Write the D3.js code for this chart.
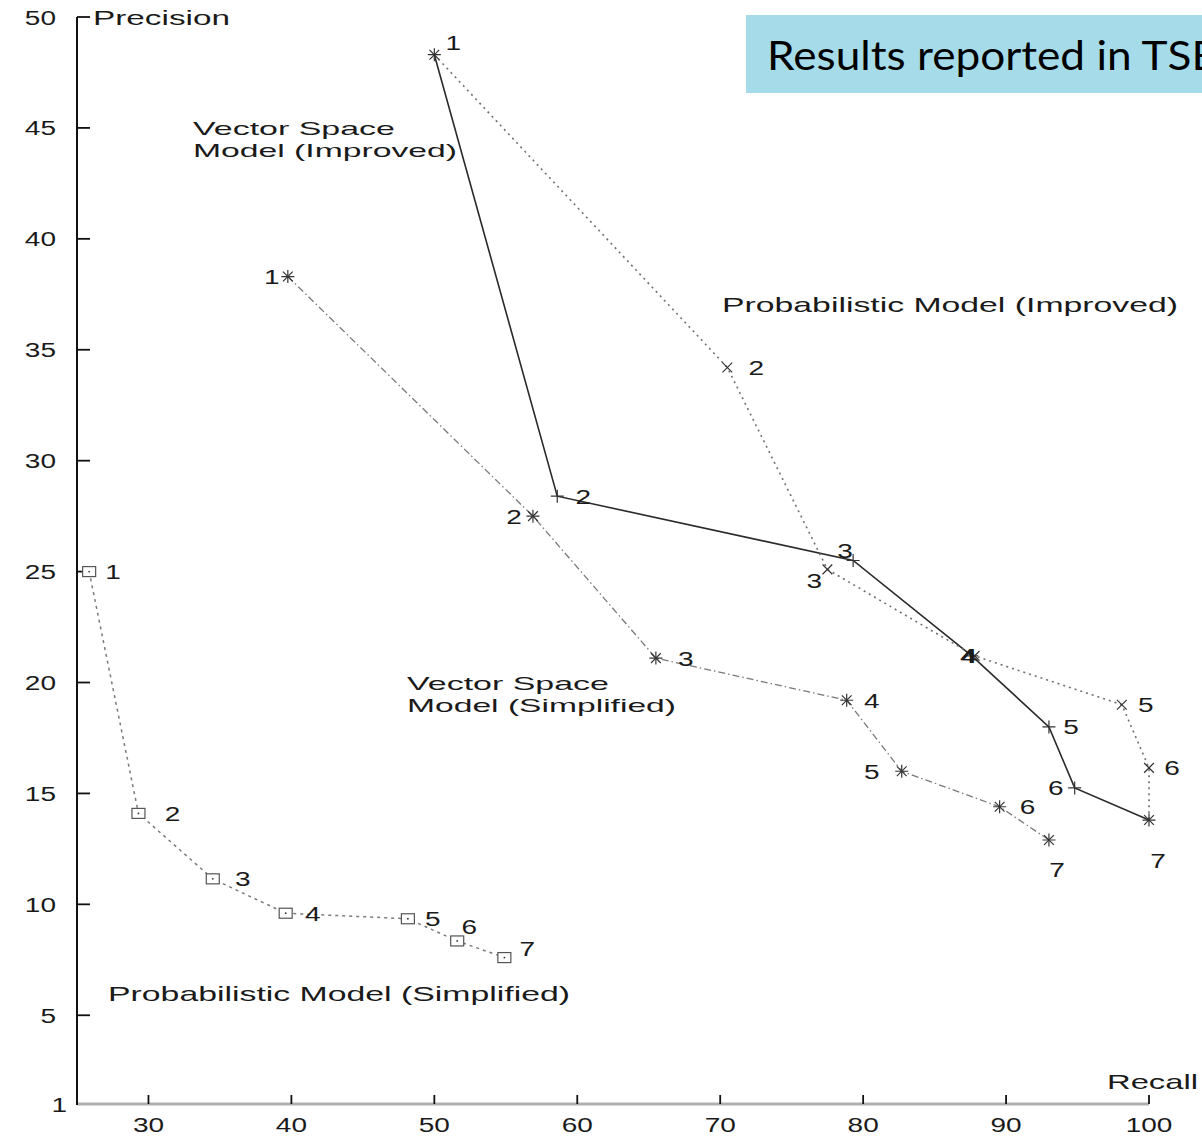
<!DOCTYPE html>
<html>
<head>
<meta charset="utf-8">
<script src="https://cdn.jsdelivr.net/npm/d3@7"></script>
<style>
  html, body { margin: 0; padding: 0; background: #fff; }
  svg { display: block; }
  .lbl { font-family: "Liberation Sans", Arial, Helvetica, sans-serif; fill: #1a1a1a; }
</style>
</head>
<body>
<div id="chart"></div>
<script>
// ---- data ----
const levels = ["1", "2", "3", "4", "5", "6", "7"];
const recallTicks = [30, 40, 50, 60, 70, 80, 90, 100];
const precisionTicks = [1, 5, 10, 15, 20, 25, 30, 35, 40, 45, 50];

const recallVSI = [50, 58.6, 79.3, 87.6, 93.0, 94.8, 100];
const precisionVSI = [48.3, 28.4, 25.5, 21.2, 18.0, 15.25, 13.8];

const recallPI = [50, 70.5, 77.5, 87.8, 98.1, 100, 100];
const precisionPI = [48.3, 34.2, 25.1, 21.2, 19.0, 16.15, 13.8];

const recallVSS = [39.75, 56.9, 65.5, 78.85, 82.7, 89.55, 93.0];
const precisionVSS = [38.3, 27.5, 21.1, 19.2, 16.0, 14.4, 12.9];

const recallPS = [25.85, 29.3, 34.5, 39.6, 48.15, 51.6, 54.9];
const precisionPS = [25.0, 14.1, 11.15, 9.6, 9.35, 8.35, 7.6];

const titleText = "Results reported in TSE";
const xAxisLabel = "Recall";
const yAxisLabel = "Precision";

// ---- layout / style (not data) ----
const W = 1202, H = 1136;
const x = d3.scaleLinear().domain([25, 100]).range([77, 1149]);
const y = d3.scaleLinear().domain([1, 50]).range([1104, 17]);

// label offsets (px) for point numbers; null = not drawn
const offVSI = [[19,-12],[26,0],[-8,-10],[-4,0],[22,0],[-19,0],[9,40]];
const offPI  = [null,[29,0],[-13,11],[-5,0],[24,0],[23,0],null];
const offVSS = [[-16,0],[-19,0],[30,0],[25,0],[-30,0],[28,0],[8,29]];
const offPS  = [[24,0],[34,0],[30,0],[27,0],[25,0],[12,-14],[23,-9]];

const series = [
  { rx: recallVSI, py: precisionVSI, off: offVSI, marker: "plus",
    stroke: "#2a2a2a", width: 1.6, dash: null },
  { rx: recallPI, py: precisionPI, off: offPI, marker: "cross",
    stroke: "#707070", width: 1.6, dash: "2,4" },
  { rx: recallVSS, py: precisionVSS, off: offVSS, marker: "star",
    stroke: "#7a7a7a", width: 1.3, dash: "7,3,1.5,3" },
  { rx: recallPS, py: precisionPS, off: offPS, marker: "square",
    stroke: "#7a7a7a", width: 1.5, dash: "3,4" }
];

const svg = d3.select("#chart").append("svg")
  .attr("width", W).attr("height", H)
  .attr("viewBox", `0 0 ${W} ${H}`);

// title box
svg.append("rect").attr("x", 746).attr("y", 15).attr("width", 480).attr("height", 78)
  .attr("fill", "#a6dcea");
svg.append("text").attr("x", 767).attr("y", 70)
  .attr("font-family", "Lato, 'Open Sans', sans-serif").attr("font-size", 40)
  .attr("textLength", 450).attr("lengthAdjust", "spacingAndGlyphs")
  .attr("fill", "#000").text(titleText);

// axes
const SX = 1.4; // horizontal stretch of the Helvetica-like text
const gx = svg.append("g");
gx.append("line").attr("x1", x(25)).attr("x2", x(100)).attr("y1", y(1)).attr("y2", y(1))
  .attr("stroke", "#b0b0b0").attr("stroke-width", 3);
gx.selectAll("line.tk").data(recallTicks).join("line").attr("class", "tk")
  .attr("x1", d => x(d)).attr("x2", d => x(d))
  .attr("y1", y(1)).attr("y2", y(1) - 9)
  .attr("stroke", "#111").attr("stroke-width", 1.8);
gx.selectAll("text").data(recallTicks).join("text").attr("class", "lbl")
  .attr("text-anchor", "middle").attr("font-size", 20)
  .attr("transform", d => `translate(${x(d)},${y(1) + 28}) scale(${SX},1)`)
  .text(d => d);

const gy = svg.append("g");
gy.append("line").attr("x1", x(25)).attr("x2", x(25)).attr("y1", y(1) + 1).attr("y2", y(50))
  .attr("stroke", "#111").attr("stroke-width", 2);
gy.selectAll("line.tk").data(precisionTicks.filter(d => d !== 1)).join("line").attr("class", "tk")
  .attr("x1", x(25)).attr("x2", x(25) + 13)
  .attr("y1", d => y(d)).attr("y2", d => y(d))
  .attr("stroke", "#111").attr("stroke-width", 1.8);
gy.selectAll("text").data(precisionTicks).join("text").attr("class", "lbl")
  .attr("text-anchor", "end").attr("font-size", 20)
  .attr("transform", d => `translate(${d === 1 ? 67 : 56},${y(d) + 7.5}) scale(${SX},1)`)
  .text(d => d);

// axis titles
svg.append("text").attr("class", "lbl").attr("x", 93).attr("y", 25)
  .attr("font-size", 21).attr("textLength", 137).attr("lengthAdjust", "spacingAndGlyphs")
  .text(yAxisLabel);
svg.append("text").attr("class", "lbl").attr("x", 1107).attr("y", 1089)
  .attr("font-size", 21).attr("textLength", 91).attr("lengthAdjust", "spacingAndGlyphs")
  .text(xAxisLabel);

// series lines
const line = d3.line();
series.forEach(s => {
  const pts = s.rx.map((r, i) => [x(r), y(s.py[i])]);
  svg.append("path").attr("d", line(pts)).attr("fill", "none")
    .attr("stroke", s.stroke).attr("stroke-width", s.width)
    .attr("stroke-dasharray", s.dash);
});

// markers
function drawMarker(g, type, cx, cy, col) {
  const r = 6.5;
  if (type === "plus" || type === "star") {
    g.append("path").attr("d", `M${cx - r},${cy}H${cx + r}M${cx},${cy - r}V${cy + r}`)
      .attr("stroke", col).attr("stroke-width", 1.2).attr("fill", "none");
  }
  if (type === "cross" || type === "star") {
    const q = r * 0.75;
    g.append("path").attr("d", `M${cx - q},${cy - q}L${cx + q},${cy + q}M${cx - q},${cy + q}L${cx + q},${cy - q}`)
      .attr("stroke", col).attr("stroke-width", 1.2).attr("fill", "none");
  }
  if (type === "square") {
    g.append("rect").attr("x", cx - 6.5).attr("y", cy - 5).attr("width", 13).attr("height", 10)
      .attr("stroke", "#555").attr("stroke-width", 1.2).attr("fill", "#fff");
    g.append("circle").attr("cx", cx).attr("cy", cy).attr("r", 0.9).attr("fill", col);
  }
}
const gm = svg.append("g");
series.forEach(s => {
  s.rx.forEach((r, i) => drawMarker(gm, s.marker, x(r), y(s.py[i]), "#333"));
});

// point number labels
const gl = svg.append("g");
series.forEach(s => {
  s.rx.forEach((r, i) => {
    const o = s.off[i];
    if (!o) return;
    gl.append("text").attr("class", "lbl").attr("text-anchor", "middle")
      .attr("font-size", 20)
      .attr("transform", `translate(${x(r) + o[0]},${y(s.py[i]) + o[1] + 7.5}) scale(${SX},1)`)
      .text(levels[i]);
  });
});

// series name annotations
const notes = [
  { lines: ["Vector Space", "Model (Improved)"], x: 193, y: 135, w: [202, 264] },
  { lines: ["Probabilistic Model (Improved)"], x: 722, y: 312, w: [456] },
  { lines: ["Vector Space", "Model (Simplified)"], x: 407, y: 690, w: [202, 269] },
  { lines: ["Probabilistic Model (Simplified)"], x: 108, y: 1001, w: [462] }
];
notes.forEach(n => {
  n.lines.forEach((t, k) => {
    svg.append("text").attr("class", "lbl").attr("x", n.x).attr("y", n.y + k * 22)
      .attr("font-size", n.lines.length > 1 ? 19 : 21)
      .attr("textLength", n.w[k]).attr("lengthAdjust", "spacingAndGlyphs")
      .text(t);
  });
});
</script>
</body>
</html>
